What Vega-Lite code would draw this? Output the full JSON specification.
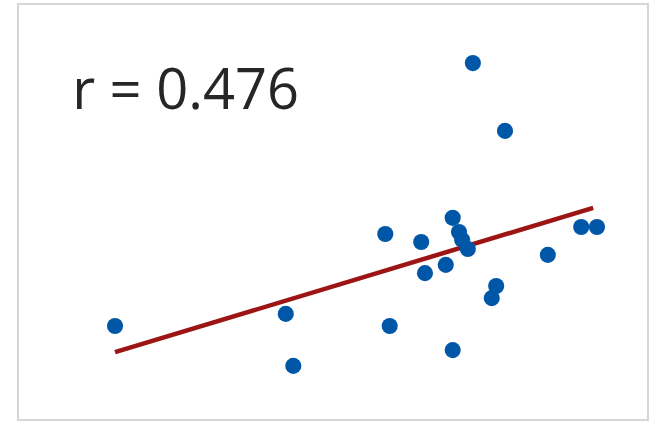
{
  "$schema": "https://vega.github.io/schema/vega-lite/v6.json",
  "width": 630,
  "height": 416,
  "padding": {"left": 18, "top": 4, "right": 2, "bottom": 2},
  "background": "white",
  "config": {"view": {"stroke": "#d6d6d6", "strokeWidth": 2}},
  "datasets": {
    "points": [
      {"x": 15.4, "y": 22.6}, {"x": 42.5, "y": 25.5}, {"x": 43.7, "y": 13.0},
      {"x": 58.3, "y": 44.7}, {"x": 59.0, "y": 22.6}, {"x": 64.0, "y": 42.8},
      {"x": 64.6, "y": 35.3}, {"x": 67.9, "y": 37.3}, {"x": 69.0, "y": 48.6},
      {"x": 70.0, "y": 45.2}, {"x": 70.5, "y": 43.3}, {"x": 71.4, "y": 41.1},
      {"x": 69.0, "y": 16.8}, {"x": 72.2, "y": 85.8}, {"x": 77.3, "y": 69.5},
      {"x": 75.9, "y": 32.2}, {"x": 75.2, "y": 29.3}, {"x": 84.1, "y": 39.7},
      {"x": 89.4, "y": 46.4}, {"x": 91.9, "y": 46.4}
    ],
    "fit": [{"x": 15.4, "y": 16.3}, {"x": 91.3, "y": 51.0}],
    "label": [{"x": 8.6, "y": 74.8, "text": "r = 0.476"}]
  },
  "layer": [
    {
      "data": {"name": "fit"},
      "mark": {"type": "line", "color": "#9c1414", "strokeWidth": 4.5},
      "encoding": {
        "x": {"field": "x", "type": "quantitative", "scale": {"domain": [0, 100], "nice": false, "zero": false}, "axis": null},
        "y": {"field": "y", "type": "quantitative", "scale": {"domain": [0, 100], "nice": false, "zero": false}, "axis": null}
      }
    },
    {
      "data": {"name": "points"},
      "mark": {"type": "circle", "color": "#0057a8", "opacity": 1, "size": 260},
      "encoding": {
        "x": {"field": "x", "type": "quantitative"},
        "y": {"field": "y", "type": "quantitative"}
      }
    },
    {
      "data": {"name": "label"},
      "mark": {"type": "text", "align": "left", "baseline": "alphabetic", "font": "Open Sans", "fontSize": 56, "color": "#262626"},
      "encoding": {
        "x": {"field": "x", "type": "quantitative"},
        "y": {"field": "y", "type": "quantitative"},
        "text": {"field": "text"}
      }
    }
  ]
}
